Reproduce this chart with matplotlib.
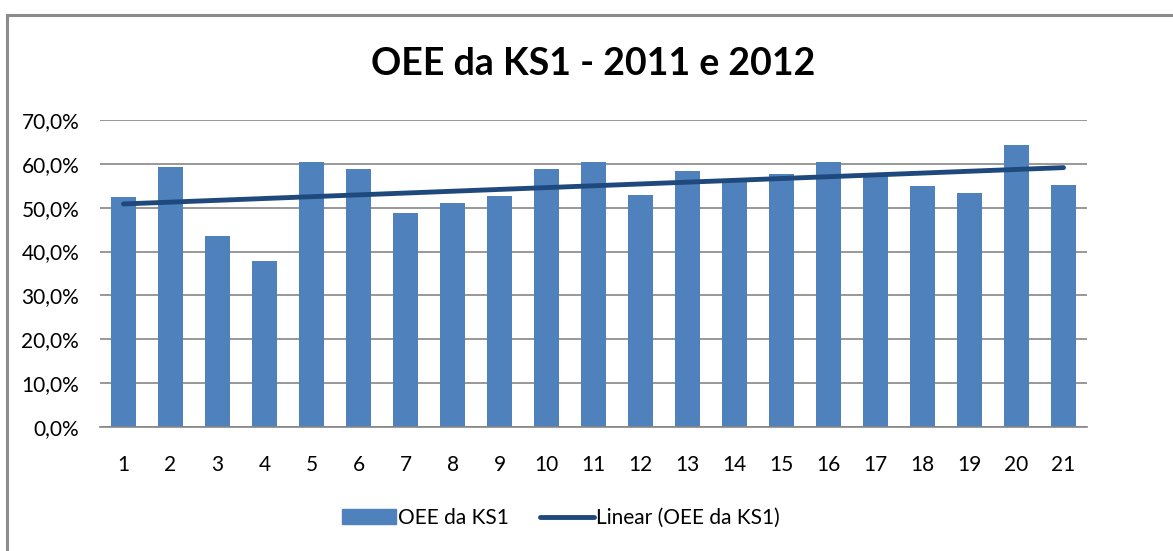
import matplotlib
matplotlib.use("Agg")
import matplotlib.pyplot as plt
from matplotlib.lines import Line2D
from matplotlib.ticker import FuncFormatter
import numpy as np

# dados
meses = list(range(1, 22))
oee = [52.4, 59.2, 43.5, 37.8, 60.5, 58.9, 48.8, 51.0, 52.6, 58.9,
       60.4, 52.9, 58.4, 56.3, 57.7, 60.4, 57.6, 55.0, 53.3, 64.3, 55.1]
titulo = "OEE da KS1 - 2011 e 2012"

plt.rcParams['font.family'] = ['Lato', 'DejaVu Sans']

fig = plt.figure(figsize=(11.73, 5.51), dpi=100)
ax = fig.add_axes([100/1173, 1-427/551, 987/1173, 307/551])

ax.bar(meses, oee, width=0.53, color='#4F81BD', zorder=2, label='OEE da KS1')

# linha de tendencia linear (como no Excel)
a, b = np.polyfit(meses, oee, 1)
x = np.array([meses[0], meses[-1]])
ax.plot(x, a*x + b, color='#1F497D', lw=3.5, solid_capstyle='round', zorder=3,
        label='Linear (OEE da KS1)')

ax.set_xlim(0.5, 21.5)
ax.set_ylim(0, 70)
ax.set_yticks(range(0, 71, 10))
ax.yaxis.set_major_formatter(FuncFormatter(lambda v, p: f"{v:.1f}%".replace('.', ',')))
ax.set_xticks(meses)
ax.grid(axis='y', color='#868686', lw=1.2, zorder=0)
for s in ['top', 'right', 'left']:
    ax.spines[s].set_visible(False)
ax.spines['bottom'].set_color('#868686')
ax.spines['bottom'].set_linewidth(1.2)
ax.tick_params(axis='both', length=0, labelsize=15, colors='black')
ax.tick_params(axis='y', pad=15)
ax.tick_params(axis='x', pad=20)

fig.text(593/1173, 1-64/551, titulo, ha='center', va='center', fontsize=27, fontweight='bold')

handles = [plt.Rectangle((0, 0), 1, 1, color='#4F81BD'),
           Line2D([0], [0], color='#1F497D', lw=3.5, solid_capstyle='round')]
fig.legend(handles, ['OEE da KS1', 'Linear (OEE da KS1)'], loc='center',
           bbox_to_anchor=(561/1173, 1-518/551), ncol=2, frameon=False,
           fontsize=15, handlelength=2.6, handletextpad=0.1, columnspacing=1.5)

# borda do grafico
fig.add_artist(Line2D([7/1173, 1], [1-14.5/551, 1-14.5/551], color='#8c8c8c', lw=2.2))
fig.add_artist(Line2D([7/1173, 7/1173], [0, 1-14.5/551], color='#8c8c8c', lw=2.2))

fig.savefig('out.png', dpi=100)
